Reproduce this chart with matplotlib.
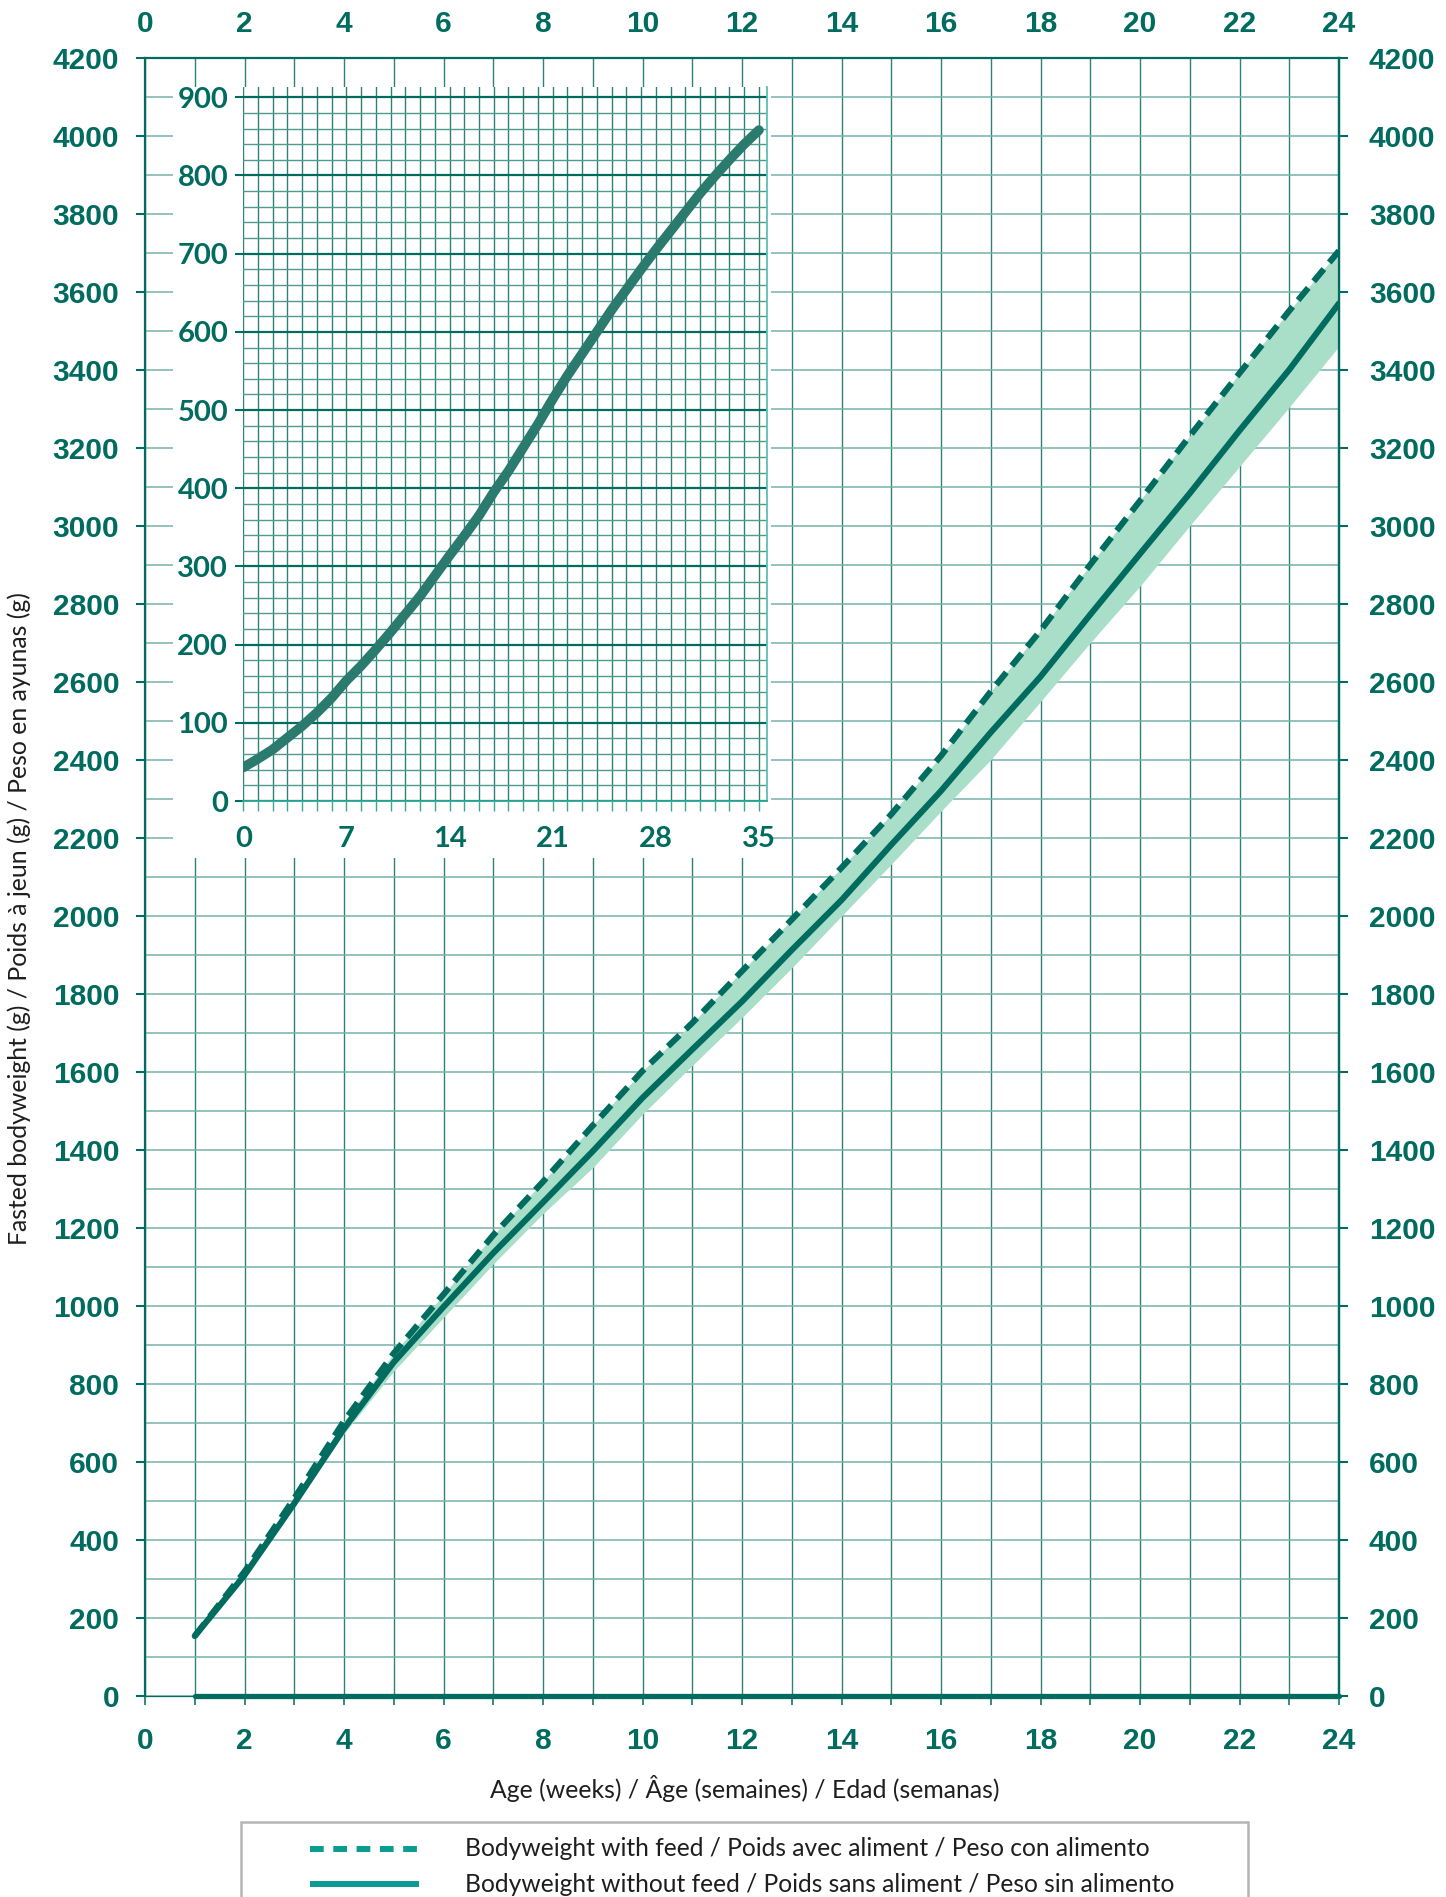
import matplotlib
matplotlib.use("Agg")
import matplotlib.pyplot as plt
from matplotlib.patches import Rectangle
from matplotlib.lines import Line2D
from matplotlib.ticker import MultipleLocator

# ---------------- data ----------------
weeks = [1, 2, 3, 4, 5, 6, 7, 8, 9, 10, 11, 12, 13, 14, 15, 16, 17, 18, 19, 20, 21, 22, 23, 24]
bw_with_feed = [153, 318, 506, 704, 878, 1029, 1181, 1318, 1462, 1602, 1725, 1858,
                1990, 2123, 2260, 2410, 2575, 2731, 2900, 3064, 3230, 3391, 3551, 3705]
bw_without_feed = [153, 309, 493, 685, 855, 997, 1135, 1265, 1396, 1533, 1657, 1780,
                   1912, 2040, 2182, 2320, 2470, 2613, 2772, 2928, 3083, 3244, 3400, 3570]
band_low = [150, 303, 484, 672, 832, 970, 1107, 1236, 1354, 1491, 1616, 1739,
            1866, 1999, 2132, 2268, 2400, 2549, 2700, 2845, 3000, 3152, 3304, 3460]
band_high = bw_with_feed
baseline = [0, 0, 0, 0, 0, 0, 0, 0, 0, 0, 0, 0, 0, 0, 0, 0, 0, 0, 0, 0, 0, 0, 0, 0]

inset_days = list(range(0, 36))
inset_bw = [43, 54, 66, 81, 96, 113, 132, 154, 173, 194, 216, 239, 262, 288, 314, 339,
            365, 395, 422, 452, 482, 514, 544, 572, 600, 628, 654, 680, 705, 729, 753,
            777, 799, 820, 840, 858]

x_label = "Age (weeks) / Âge (semaines) / Edad (semanas)"
y_label = "Fasted bodyweight (g) / Poids à jeun (g) / Peso en ayunas (g)"
legend_labels = ["Bodyweight with feed / Poids avec aliment / Peso con alimento",
                 "Bodyweight without feed / Poids sans aliment / Peso sin alimento"]

# ---------------- style ----------------
DARK = "#006b5f"
VGRID = "#2f8175"
HGRID = "#74b3a9"
BAND = "#a9dec9"
LEG = "#0a9c90"
TXT = "#1e1e1e"
NUM_FONT = ["Liberation Sans", "DejaVu Sans"]
INS_FONT = ["Lato", "DejaVu Sans"]
LAB_FONT = ["Lato", "DejaVu Sans"]

W, H = 1446, 1897
fig = plt.figure(figsize=(W / 100, H / 100), dpi=100)

def fx(px):
    return px / W

def fy(py):
    return 1 - py / H

# ---------------- main axes ----------------
L, R, T, B = 145, 1339, 57.7, 1695.7
ax = fig.add_axes([fx(L), fy(B), (R - L) / W, (B - T) / H])
ax.set_xlim(0, 24)
ax.set_ylim(0, 4200)

ax.xaxis.set_major_locator(MultipleLocator(2))
ax.xaxis.set_minor_locator(MultipleLocator(1))
ax.yaxis.set_major_locator(MultipleLocator(200))
ax.yaxis.set_minor_locator(MultipleLocator(100))

ax.grid(True, which="both", axis="x", color=VGRID, lw=1.0, zorder=0)
ax.grid(True, which="both", axis="y", color=HGRID, lw=1.1, zorder=0)
ax.set_axisbelow(True)

ax.tick_params(axis="x", which="both", direction="out", length=6.5, width=1.1,
               color=DARK, pad=16, labelsize=21.5, labelcolor=DARK)
ax.tick_params(axis="y", which="major", direction="out", length=6.5, width=1.5,
               color=DARK, pad=12, labelsize=21.5, labelcolor=DARK)
ax.tick_params(axis="y", which="minor", length=0)
for lab in ax.get_xticklabels() + ax.get_yticklabels():
    lab.set_fontfamily(NUM_FONT)
    lab.set_fontweight("bold")

for s in ["left", "top", "right"]:
    ax.spines[s].set_color(DARK)
    ax.spines[s].set_linewidth(1.6)
ax.spines["bottom"].set_color(DARK)
ax.spines["bottom"].set_linewidth(0.9)

sec_top = ax.secondary_xaxis("top")
sec_top.xaxis.set_major_locator(MultipleLocator(2))
sec_top.tick_params(length=0, pad=14, labelsize=21.5, labelcolor=DARK)
sec_top.spines["top"].set_visible(False)
for lab in sec_top.get_xticklabels():
    lab.set_fontfamily(NUM_FONT)
    lab.set_fontweight("bold")

sec_right = ax.secondary_yaxis("right")
sec_right.yaxis.set_major_locator(MultipleLocator(200))
sec_right.tick_params(direction="out", length=6.5, width=1.5, color=DARK, pad=15,
                      labelsize=21.5, labelcolor=DARK)
sec_right.spines["right"].set_color(DARK)
sec_right.spines["right"].set_linewidth(1.6)
for lab in sec_right.get_yticklabels():
    lab.set_fontfamily(NUM_FONT)
    lab.set_fontweight("bold")

ax.fill_between(weeks, band_low, band_high, color=BAND, lw=0, zorder=2)
ax.plot(weeks, bw_without_feed, color=DARK, lw=4.4, solid_capstyle="round",
        solid_joinstyle="round", zorder=3)
ax.plot(weeks, bw_with_feed, color=DARK, lw=4.4, dashes=(2.6, 1.4),
        dash_capstyle="butt", zorder=3)
ax.plot(weeks, baseline, color=DARK, lw=3.8, solid_capstyle="round", zorder=3,
        clip_on=False)

# ---------------- white box behind inset ----------------
box = Rectangle((fx(172.7), fy(858)), (771 - 172.7) / W, (858 - 87) / H,
                transform=fig.transFigure, facecolor="white", edgecolor="none", zorder=1)
fig.add_artist(box)

# ---------------- inset ----------------
iL, iR, iT, iB = 243.3, 767, 87.3, 801
ax2 = fig.add_axes([fx(iL), fy(iB), (iR - iL) / W, (iB - iT) / H])
ax2.set_zorder(2)
ax2.set_xlim(0, 35.55)
ax2.set_ylim(0, 912.8)
ax2.xaxis.set_major_locator(MultipleLocator(7))
ax2.xaxis.set_minor_locator(MultipleLocator(1))
ax2.yaxis.set_major_locator(MultipleLocator(100))
ax2.yaxis.set_minor_locator(MultipleLocator(20))
ax2.grid(True, which="both", axis="x", color=VGRID, lw=1.0)
ax2.grid(True, which="minor", axis="y", color="#4f9a8f", lw=1.0)
ax2.grid(True, which="major", axis="y", color=DARK, lw=1.6)
ax2.set_axisbelow(True)
ax2.tick_params(axis="x", which="both", direction="out", length=7, width=1.0,
                color="#3aa597", pad=11, labelsize=21, labelcolor=DARK)
ax2.tick_params(axis="y", which="major", direction="out", length=6, width=1.5,
                color=DARK, pad=5, labelsize=21, labelcolor=DARK)
ax2.tick_params(axis="y", which="minor", length=0)
for lab in ax2.get_xticklabels() + ax2.get_yticklabels():
    lab.set_fontfamily(INS_FONT)
    lab.set_fontweight("bold")
ax2.spines["top"].set_visible(False)
ax2.spines["left"].set_visible(False)
ax2.spines["bottom"].set_color("#2aa697")
ax2.spines["bottom"].set_linewidth(1.3)
ax2.spines["right"].set_color("#5cc0b3")
ax2.spines["right"].set_linewidth(1.3)
ax2.plot(inset_days, inset_bw, color="#2a7a6e", lw=7.0, solid_capstyle="round",
         solid_joinstyle="round", zorder=3)

# ---------------- axis titles ----------------
fig.text(fx(745), fy(1788), x_label, ha="center", va="center", fontsize=17.8,
         color=TXT, family=LAB_FONT)
fig.text(fx(19.4), fy(919), y_label, ha="center", va="center", fontsize=17.8,
         rotation=90, color=TXT, family=LAB_FONT)

# ---------------- legend ----------------
leg_box = Rectangle((fx(240.6), fy(1915)), (1248 - 240.6) / W, (1915 - 1822) / H,
                    transform=fig.transFigure, facecolor="white", edgecolor="#b5b5b5",
                    lw=1.8, zorder=1, clip_on=False)
fig.add_artist(leg_box)
fig.add_artist(Line2D([fx(310), fx(419)], [fy(1849), fy(1849)], transform=fig.transFigure,
                      color=LEG, lw=4.3, dashes=(2.3, 1.6), dash_capstyle="butt", zorder=2))
fig.add_artist(Line2D([fx(310), fx(419)], [fy(1884), fy(1884)], transform=fig.transFigure,
                      color=LEG, lw=4.3, solid_capstyle="butt", zorder=2))
fig.text(fx(465), fy(1849), legend_labels[0], ha="left", va="center", fontsize=17.7,
         color=TXT, family=LAB_FONT, zorder=3)
fig.text(fx(465), fy(1884), legend_labels[1], ha="left", va="center", fontsize=17.7,
         color=TXT, family=LAB_FONT, zorder=3)

fig.savefig("out.png", dpi=100)
